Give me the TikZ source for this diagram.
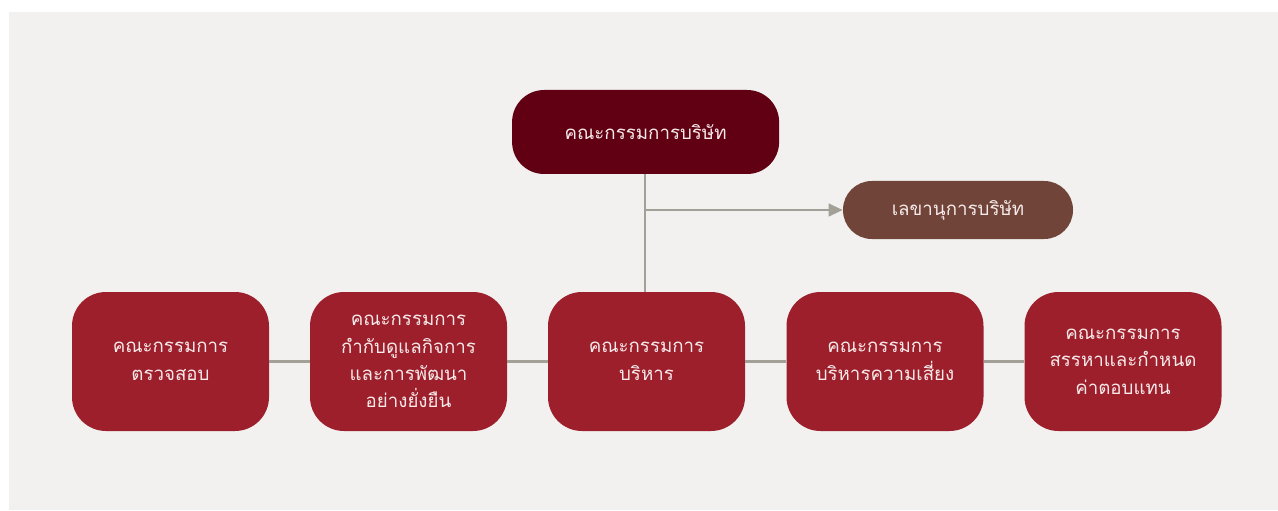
\documentclass[tikz,border=0pt]{standalone}
\usepackage{fontspec}
\setmainfont[Script=Thai]{Loma}
\usepackage{xcolor}
\usetikzlibrary{arrows.meta}

\definecolor{pagebg}{RGB}{242,241,239}
\definecolor{boardred}{RGB}{96,0,18}
\definecolor{secbrown}{RGB}{113,68,57}
\definecolor{comred}{RGB}{156,31,43}
\definecolor{linkgray}{RGB}{163,161,151}
\definecolor{boxtext}{RGB}{246,234,234}

\begin{document}
\begin{tikzpicture}[
        boxtxt/.style={text=boxtext,align=center,font=\fontsize{13.3}{19.5}\selectfont,inner sep=0pt},
        boardbox/.style={boxtxt,fill=boardred,rounded corners=0.8cm,minimum width=6.675cm,minimum height=2.1cm},
        secbox/.style={boxtxt,fill=secbrown,rounded corners=0.72cm,minimum width=5.75cm,minimum height=1.45cm},
        combox/.style={boxtxt,fill=comred,rounded corners=0.85cm,minimum width=4.925cm,minimum height=3.475cm},
        link/.style={draw=linkgray,line width=1.6pt}
    ]
        \useasboundingbox (0,0) rectangle (31.95,12.75);
        \fill[pagebg] (0.225,0) rectangle (31.95,12.45);
        \node[boardbox] at (16.14,9.45) (board) {คณะกรรมการบริษัท};
        \node[secbox] at (23.95,7.5) (sec) {เลขานุการบริษัท};
        \node[combox] at (4.2625,3.7125) (audit) {คณะกรรมการ\\ตรวจสอบ};
        \node[combox] at (10.2125,3.7125) (gov) {คณะกรรมการ\\กำกับดูแลกิจการ\\และการพัฒนา\\อย่างยั่งยืน};
        \node[combox] at (16.1625,3.7125) (exec) {คณะกรรมการ\\บริหาร};
        \node[combox] at (22.125,3.7125) (risk) {คณะกรรมการ\\บริหารความเสี่ยง};
        \node[combox] at (28.075,3.7125) (nom) {คณะกรรมการ\\สรรหาและกำหนด\\ค่าตอบแทน};
        \coordinate (split) at (16.125,7.5);
        \draw[link] (board.south -| split) -- (exec.north -| split);
        \draw[link,-{Triangle[length=10pt,width=9pt]}] (split) -- (sec.west);
        \draw[link] (audit) -- (gov) -- (exec) -- (risk) -- (nom);
    \end{tikzpicture}
\end{document}
